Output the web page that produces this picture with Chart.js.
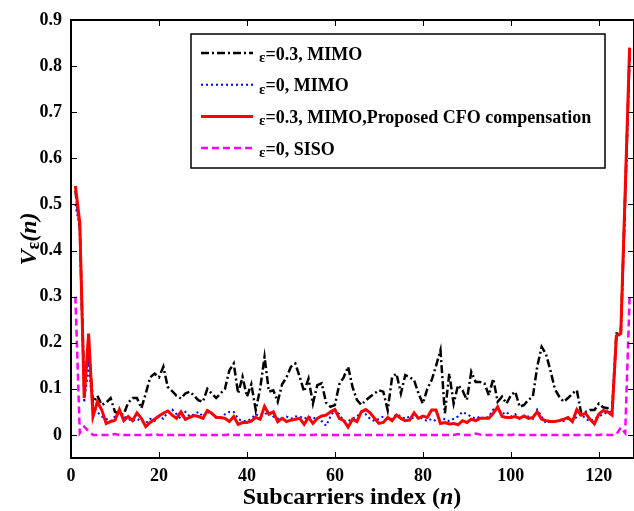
<!DOCTYPE html>
<html>
<head>
<meta charset="utf-8">
<title>V_eps(n) vs subcarriers</title>
<script src="https://cdn.jsdelivr.net/npm/chart.js@4.4.0/dist/chart.umd.min.js"></script>
<style>
  html, body { margin: 0; padding: 0; background: #fff; }
</style>
</head>
<body>
<canvas id="myChart" width="634" height="511"></canvas>
<script>
// subcarrier index n
const subcarriers = [
  1,2,3,4,5,6,7,8,9,10,11,12,13,14,15,16,17,18,19,20,
  21,22,23,24,25,26,27,28,29,30,31,32,33,34,35,36,37,38,39,40,
  41,42,43,44,45,46,47,48,49,50,51,52,53,54,55,56,57,58,59,60,
  61,62,63,64,65,66,67,68,69,70,71,72,73,74,75,76,77,78,79,80,
  81,82,83,84,85,86,87,88,89,90,91,92,93,94,95,96,97,98,99,100,
  101,102,103,104,105,106,107,108,109,110,111,112,113,114,115,116,117,118,119,120,
  121,122,123,124,125,126,127
];

// eps=0.3, MIMO
const mimo03 = [
  0.53,0.45,0.10,0.19,0.07,0.085,0.065,0.07,0.08,0.05,
  0.045,0.045,0.07,0.08,0.08,0.058,0.09,0.125,0.133,0.125,
  0.148,0.104,0.095,0.085,0.079,0.09,0.094,0.085,0.075,0.072,
  0.1,0.09,0.08,0.09,0.1,0.14,0.155,0.09,0.126,0.083,
  0.11,0.054,0.1,0.169,0.094,0.097,0.072,0.11,0.125,0.148,
  0.155,0.126,0.094,0.122,0.068,0.108,0.112,0.07,0.061,0.065,
  0.11,0.125,0.148,0.104,0.076,0.065,0.075,0.083,0.09,0.097,
  0.094,0.054,0.125,0.133,0.09,0.13,0.125,0.119,0.09,0.068,
  0.1,0.119,0.15,0.184,0.047,0.133,0.068,0.108,0.097,0.076,
  0.137,0.115,0.115,0.112,0.086,0.122,0.072,0.083,0.068,0.086,
  0.094,0.061,0.065,0.076,0.083,0.148,0.191,0.175,0.14,0.1,
  0.083,0.072,0.08,0.09,0.097,0.047,0.05,0.054,0.054,0.068,
  0.06,0.058,0.05,0.22,0.22,0.52,0.83
];

// eps=0, MIMO
const mimo0 = [
  0.50,0.45,0.07,0.15,0.06,0.05,0.04,0.035,0.03,0.04,
  0.05,0.04,0.035,0.03,0.035,0.03,0.025,0.035,0.03,0.04,
  0.035,0.05,0.055,0.045,0.035,0.05,0.04,0.045,0.05,0.04,
  0.05,0.045,0.04,0.035,0.045,0.05,0.05,0.035,0.03,0.03,
  0.035,0.045,0.04,0.045,0.05,0.04,0.035,0.035,0.04,0.035,
  0.04,0.04,0.035,0.04,0.035,0.04,0.03,0.02,0.04,0.055,
  0.045,0.03,0.03,0.035,0.04,0.05,0.045,0.035,0.03,0.035,
  0.04,0.035,0.035,0.045,0.04,0.035,0.04,0.035,0.04,0.035,
  0.03,0.035,0.03,0.03,0.035,0.03,0.035,0.04,0.05,0.045,
  0.04,0.035,0.04,0.035,0.04,0.055,0.06,0.045,0.05,0.04,
  0.045,0.035,0.04,0.04,0.035,0.055,0.04,0.025,0.03,0.03,
  0.03,0.03,0.035,0.03,0.04,0.045,0.035,0.03,0.035,0.04,
  0.045,0.05,0.05,0.21,0.22,0.5,0.82
];

// eps=0.3, MIMO, proposed CFO compensation
const proposed = [
  0.54,0.46,0.08,0.22,0.04,0.072,0.054,0.025,0.029,0.032,
  0.055,0.031,0.04,0.031,0.048,0.036,0.018,0.027,0.034,0.041,
  0.047,0.052,0.043,0.036,0.05,0.034,0.038,0.042,0.04,0.036,
  0.053,0.047,0.038,0.038,0.036,0.029,0.04,0.023,0.027,0.027,
  0.03,0.038,0.034,0.062,0.045,0.05,0.029,0.036,0.029,0.032,
  0.034,0.036,0.023,0.038,0.025,0.036,0.041,0.043,0.05,0.055,
  0.036,0.031,0.017,0.034,0.029,0.05,0.055,0.048,0.036,0.025,
  0.027,0.038,0.031,0.043,0.036,0.031,0.032,0.048,0.036,0.041,
  0.038,0.054,0.054,0.025,0.027,0.024,0.025,0.022,0.031,0.027,
  0.034,0.031,0.036,0.036,0.036,0.047,0.061,0.04,0.038,0.038,
  0.04,0.036,0.041,0.036,0.038,0.05,0.034,0.031,0.029,0.029,
  0.031,0.034,0.038,0.029,0.055,0.043,0.047,0.034,0.024,0.045,
  0.053,0.05,0.043,0.215,0.22,0.53,0.84
];

// eps=0, SISO
const siso0 = [
  0.30,0.004,0.018,0.008,0,0,0,0,0,0.002,
  0,0,0,0,0,0,0,0,0.002,0,
  0,0,0,0,0,0,0,0,0,0,
  0,0,0,0,0,0.001,0,0,0,0,
  0,0,0,0.001,0,0,0,0,0,0,
  0,0,0,0,0,0.001,0,0,0,0,
  0,0,0,0,0,0,0,0,0,0,
  0,0,0,0,0,0,0,0,0,0,
  0,0,0,0,0,0,0,0.002,0,0,
  0,0.003,0.001,0,0,0,0,0,0,0,
  0.001,0,0,0,0,0,0,0,0,0,
  0,0,0,0,0,0,0,0,0,0,
  0.001,0,0,0.001,0.016,0.004,0.30
];

const seriesLabels = ['ε=0.3, MIMO', 'ε=0, MIMO', 'ε=0.3, MIMO,Proposed CFO compensation', 'ε=0, SISO'];
const xTicks = [0, 20, 40, 60, 80, 100, 120];
const yTicks = [0, 0.1, 0.2, 0.3, 0.4, 0.5, 0.6, 0.7, 0.8, 0.9];

const SERIF = "'Liberation Serif', 'Times New Roman', serif";

function pts(vals) {
  return subcarriers.map((n, i) => ({ x: n, y: vals[i] }));
}

// frame with inward ticks, boxed legend and axis titles (MATLAB look)
const matlabLook = {
  id: 'matlabLook',
  afterDatasetsDraw(chart) {
    const { ctx, chartArea: a, scales: { x, y } } = chart;
    ctx.save();
    ctx.strokeStyle = '#000';
    ctx.lineWidth = 1;
    xTicks.forEach(v => {
      const px = Math.round(x.getPixelForValue(v)) + 0.5;
      ctx.beginPath();
      ctx.moveTo(px, a.bottom); ctx.lineTo(px, a.bottom - 6);
      ctx.moveTo(px, a.top); ctx.lineTo(px, a.top + 6);
      ctx.stroke();
    });
    yTicks.forEach(v => {
      const py = Math.round(y.getPixelForValue(v)) + 0.5;
      ctx.beginPath();
      ctx.moveTo(a.left, py); ctx.lineTo(a.left + 6, py);
      ctx.moveTo(a.right, py); ctx.lineTo(a.right - 6, py);
      ctx.stroke();
    });
    ctx.lineWidth = 2;
    ctx.strokeRect(a.left, a.top, a.right - a.left, a.bottom - a.top);

    // legend
    const lx = 191, ly = 34, lw = 414, lh = 134;
    ctx.fillStyle = '#fff';
    ctx.fillRect(lx, ly, lw, lh);
    ctx.lineWidth = 1.5;
    ctx.strokeRect(lx, ly, lw, lh);
    chart.data.datasets.forEach((ds, i) => {
      const rowY = 55 + i * 31.7;
      ctx.save();
      ctx.strokeStyle = ds.borderColor;
      ctx.lineWidth = ds.borderWidth;
      ctx.setLineDash(ds.borderDash || []);
      ctx.beginPath();
      ctx.moveTo(201, rowY - 2); ctx.lineTo(253, rowY - 2);
      ctx.stroke();
      ctx.restore();
      const label = seriesLabels[i];
      ctx.fillStyle = '#000';
      ctx.textBaseline = 'middle';
      ctx.textAlign = 'left';
      ctx.font = 'bold 15px ' + SERIF;
      ctx.fillText(label.charAt(0), 259, rowY + 3);
      const w = ctx.measureText(label.charAt(0)).width;
      ctx.font = 'bold 18px ' + SERIF;
      ctx.fillText(label.slice(1), 259 + w, rowY);
    });

    // x title: Subcarriers index (n)
    const parts = [['bold ', 'Subcarriers index ('], ['italic bold ', 'n'], ['bold ', ')']];
    ctx.textBaseline = 'middle';
    let total = 0;
    parts.forEach(p => { ctx.font = p[0] + '24px ' + SERIF; total += ctx.measureText(p[1]).width; });
    let cx = 352 - total / 2;
    parts.forEach(p => {
      ctx.font = p[0] + '24px ' + SERIF;
      ctx.fillText(p[1], cx, 498);
      cx += ctx.measureText(p[1]).width;
    });

    // y title: V_eps(n)
    ctx.translate(30, (a.top + a.bottom) / 2);
    ctx.rotate(-Math.PI / 2);
    const yparts = [['italic bold 24px ', 'V', 0], ['bold 18px ', 'ε', 4], ['italic bold 24px ', '(n)', 0]];
    total = 0;
    yparts.forEach(p => { ctx.font = p[0] + SERIF; total += ctx.measureText(p[1]).width; });
    cx = -total / 2;
    yparts.forEach(p => {
      ctx.font = p[0] + SERIF;
      ctx.fillText(p[1], cx, p[2]);
      cx += ctx.measureText(p[1]).width;
    });
    ctx.restore();
  }
};

const ctx = document.getElementById('myChart').getContext('2d');
const myChart = new Chart(ctx, {
  type: 'line',
  data: {
    datasets: [
      { label: seriesLabels[0], data: pts(mimo03), borderColor: '#000000', borderWidth: 2.5,
        borderDash: [8, 3, 2, 3], order: 4 },
      { label: seriesLabels[1], data: pts(mimo0), borderColor: '#0000ff', borderWidth: 2,
        borderDash: [2, 3], order: 3 },
      { label: seriesLabels[2], data: pts(proposed), borderColor: '#ff0000', borderWidth: 3,
        order: 2 },
      { label: seriesLabels[3], data: pts(siso0), borderColor: '#ff00ff', borderWidth: 2.5,
        borderDash: [7, 4], order: 1 }
    ]
  },
  options: {
    responsive: false,
    animation: false,
    events: [],
    elements: {
      point: { radius: 0 },
      line: { tension: 0, fill: false }
    },
    layout: { padding: { top: 20, right: -3, left: 0, bottom: 0 } },
    plugins: {
      legend: { display: false },
      tooltip: { enabled: false }
    },
    scales: {
      x: {
        type: 'linear',
        min: 0,
        max: 128,
        grid: { display: false, drawTicks: false },
        border: { display: false },
        afterBuildTicks: s => { s.ticks = xTicks.map(v => ({ value: v })); },
        afterFit: s => { s.height = 53; },
        ticks: {
          color: '#000',
          padding: 8,
          maxRotation: 0,
          font: { family: SERIF, size: 18, weight: 'bold' },
          callback: v => String(v)
        }
      },
      y: {
        min: -0.05,
        max: 0.9,
        grid: { display: false, drawTicks: false },
        border: { display: false },
        afterBuildTicks: s => { s.ticks = yTicks.map(v => ({ value: v })); },
        afterFit: s => { s.width = 71; },
        ticks: {
          color: '#000',
          padding: 9,
          font: { family: SERIF, size: 18, weight: 'bold' },
          callback: v => String(Number(v.toFixed(1)))
        }
      }
    }
  },
  plugins: [matlabLook]
});
</script>
</body>
</html>
